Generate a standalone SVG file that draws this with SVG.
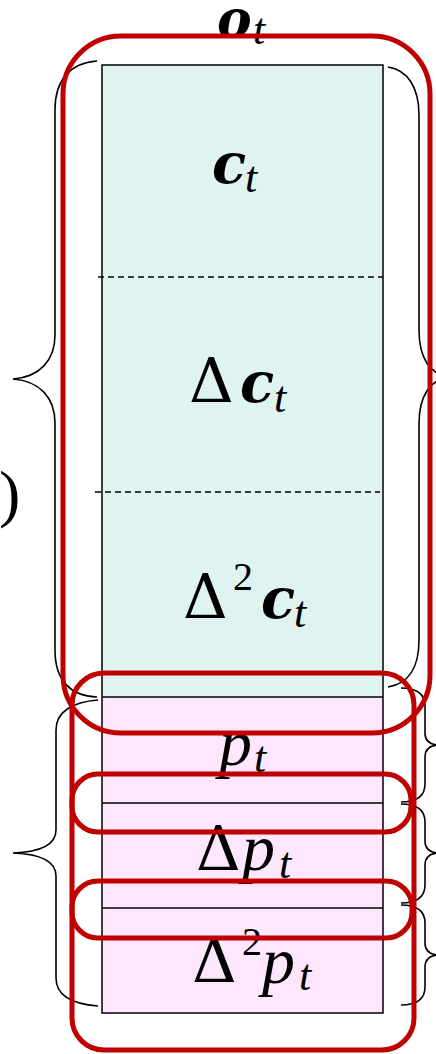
<svg xmlns="http://www.w3.org/2000/svg" width="436" height="1054" viewBox="0 0 436 1054">
<style>
.box{stroke:#000;stroke-width:1.5}
.teal{fill:#DFF4F0}
.pink{fill:#FFE6FF}
.dash{stroke:#000;stroke-width:1.5;stroke-dasharray:6 4;fill:none}
.sep{stroke:#000;stroke-width:1.5;fill:none}
.brace{fill:none;stroke:#000;stroke-width:1.6}
.hl{fill:none;stroke:#C00000;stroke-width:5}
.d{font-family:"DejaVu Serif",serif;font-size:62px}
.bi{font-family:"DejaVu Serif",serif;font-size:56px;font-weight:bold;font-style:italic}
.bo{font-family:"DejaVu Serif",serif;font-size:52px;font-weight:bold;font-style:italic}
.it{font-family:"Liberation Serif",serif;font-size:66px;font-style:italic}
.sub{font-family:"Liberation Serif",serif;font-size:44px;font-style:italic}
.sup{font-family:"Liberation Serif",serif;font-size:40px}
.par{font-family:"Liberation Serif",serif;font-size:64px}
</style>
<g id="stack">
  <g id="node-c">
    <rect class="teal" x="102" y="65" width="281" height="632"/>
    <text x="212" y="183"><tspan class="bi">c</tspan><tspan class="sub" x="245" y="192">t</tspan></text>
  </g>
  <g id="node-dc">
    <line class="dash" x1="98" y1="277" x2="383" y2="277"/>
    <text x="189" y="402"><tspan class="d">Δ</tspan><tspan class="bi" x="240">c</tspan><tspan class="sub" x="274" y="412">t</tspan></text>
  </g>
  <g id="node-ddc">
    <line class="dash" x1="95" y1="492" x2="380" y2="492"/>
    <text x="183" y="618"><tspan class="d">Δ</tspan><tspan class="sup" x="233" y="590">2</tspan><tspan class="bi" x="261" y="618">c</tspan><tspan class="sub" x="294" y="627">t</tspan></text>
  </g>
  <g id="node-p">
    <rect class="pink" x="102" y="697" width="281" height="316"/>
    <text x="219" y="765"><tspan class="it">p</tspan><tspan class="sub" x="254" y="772">t</tspan></text>
  </g>
  <g id="node-dp">
    <line class="sep" x1="102" y1="803" x2="383" y2="803"/>
    <text x="196" y="870"><tspan class="d">Δ</tspan><tspan class="it" x="242">p</tspan><tspan class="sub" x="279" y="878">t</tspan></text>
  </g>
  <g id="node-ddp">
    <line class="sep" x1="102" y1="908" x2="383" y2="908"/>
    <text x="192" y="982"><tspan class="d">Δ</tspan><tspan class="sup" x="242" y="955">2</tspan><tspan class="it" x="262" y="983">p</tspan><tspan class="sub" x="299" y="990">t</tspan></text>
  </g>
  <line class="sep" x1="102" y1="697" x2="383" y2="697"/>
  <rect class="box" x="102" y="65" width="281" height="948" fill="none"/>
</g>
<g id="label-o">
  <text x="217" y="37"><tspan class="bo">o</tspan><tspan class="sub" x="253" y="44">t</tspan></text>
</g>
<g id="label-paren">
  <text class="par" x="-1" y="515">)</text>
</g>
<g id="connectors">
  <path class="brace" d="M97,61 C70,63 55,80 55,110 L55,335 C55,360 40,377 13,379 C40,381 55,398 55,423 L55,650 C55,680 70,696 97,697"/>
  <path class="brace" d="M388,67 C408,70 419,88 419,115 L419,330 C419,358 430,375 450,377 C430,379 419,396 419,424 L419,640 C419,668 408,684 388,687"/>
  <path class="brace" d="M98,700 C72,702 56,712 56,730 L56,830 C56,845 40,852 13,853 C40,854 56,861 56,876 L56,978 C56,996 72,1004 98,1006"/>
  <path class="brace" d="M401,688 C416,688 425,693 425,706 L425,733 C425,741 430,745 440,745 C430,745 425,749 425,757 L425,784 C425,797 416,802 401,802"/>
  <path class="brace" d="M401,804 C416,804 425,809 425,822 L425,841 C425,849 430,853 440,853 C430,853 425,857 425,865 L425,885 C425,898 416,903 401,903"/>
  <path class="brace" d="M401,905 C416,905 425,910 425,923 L425,943 C425,951 430,955 440,955 C430,955 425,959 425,967 L425,987 C425,1000 416,1005 401,1005"/>
</g>
<g id="highlights">
  <rect class="hl" x="63" y="36" width="367" height="697" rx="58" ry="58"/>
  <rect class="hl" x="72" y="673" width="342" height="377" rx="32" ry="32"/>
  <rect class="hl" x="72" y="774" width="339" height="58" rx="26" ry="26"/>
  <rect class="hl" x="72" y="881" width="340" height="57" rx="26" ry="26"/>
</g>
</svg>
